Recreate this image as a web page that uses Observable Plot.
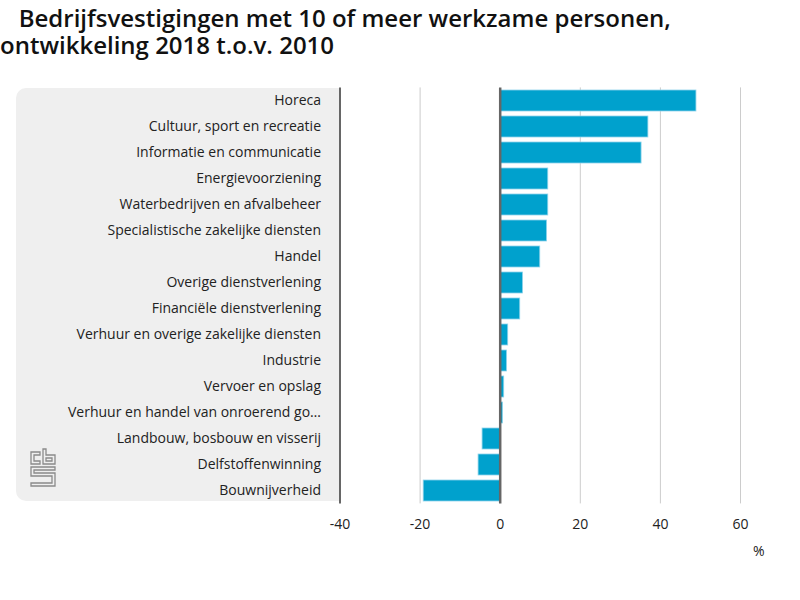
<!DOCTYPE html>
<html><head><meta charset="utf-8">
<script src="https://cdn.jsdelivr.net/npm/d3@7"></script>
<script src="https://cdn.jsdelivr.net/npm/@observablehq/plot@0.6"></script>
<style>
body{margin:0;background:#fff;}
#wrap{position:relative;width:800px;height:600px;overflow:hidden;font-family:"Open Sans",sans-serif;}
#title{position:absolute;left:0;top:4px;font-size:24px;font-weight:600;line-height:27px;color:#111;white-space:pre;}
#panel{position:absolute;left:16px;top:88px;width:323px;height:413px;background:#efefef;border-radius:10px 0 0 10px;}
#logo{position:absolute;left:28px;top:448px;}
#chart{position:absolute;left:0;top:0;}
</style></head><body>
<div id="wrap">
<div id="panel"></div>
<svg id="logo" width="32" height="42" viewBox="0 0 32 42" fill="none" stroke="#8a8a8a" stroke-width="1.3">
<path d="M3 4 h9 v3 h-6 v6 h6 v3 h-9 z"/>
<path d="M15 1 h3 v6 h9 v9 h-12 z M18 10 v3 h6 v-3 z"/>
<path d="M3 19 h24 v3 h-21 v3 h21 v13 h-24 v-3 h21 v-7 h-21 z"/>
</svg>
<div id="title">   Bedrijfsvestigingen met 10 of meer werkzame personen,
ontwikkeling 2018 t.o.v. 2010</div>
<div id="chart"></div>
</div>
<script>
const categories = [
  "Horeca",
  "Cultuur, sport en recreatie",
  "Informatie en communicatie",
  "Energievoorziening",
  "Waterbedrijven en afvalbeheer",
  "Specialistische zakelijke diensten",
  "Handel",
  "Overige dienstverlening",
  "Financiële dienstverlening",
  "Verhuur en overige zakelijke diensten",
  "Industrie",
  "Vervoer en opslag",
  "Verhuur en handel van onroerend go…",
  "Landbouw, bosbouw en visserij",
  "Delfstoffenwinning",
  "Bouwnijverheid"
];
const values = [49.0, 37.0, 35.3, 12.0, 12.0, 11.7, 10.0, 5.7, 5.0, 2.0, 1.7, 1.0, 0.7, -4.4, -5.4, -19.1];
const xTicks = [-40, -20, 0, 20, 40, 60];
const gridTicks = [-20, 20, 40, 60];
const unitLabel = "%";

const data = categories.map((c, i) => ({category: c, value: values[i]}));

const plot = Plot.plot({
  width: 800,
  height: 600,
  marginLeft: 339.5,
  marginRight: 60,
  marginTop: 87.4,
  marginBottom: 96.6,
  style: {fontFamily: "Open Sans, sans-serif", fontSize: "14px", color: "#222", background: "transparent"},
  x: {domain: [-40, 60], ticks: xTicks, label: null},
  y: {domain: categories, paddingInner: 0.2, paddingOuter: 0.1, label: null},
  marks: [
    Plot.ruleX(gridTicks, {stroke: "#cccccc", strokeWidth: 1}),
    Plot.barX(data, {x: "value", y: "category", fill: "#00a1cd", stroke: "#8fd3ea", strokeWidth: 0.8}),
    Plot.ruleX([0], {stroke: "#666", strokeWidth: 2.5}),
    Plot.ruleX([-40], {stroke: "#666", strokeWidth: 2}),
    Plot.axisX({ticks: xTicks, tickSize: 0, tickPadding: 15, fontSize: 14, fill: "#222", tickFormat: d => String(d)}),
    Plot.axisY({tickSize: 0, tickPadding: 19, fontSize: 14, fill: "#222"}),
    Plot.text([unitLabel], {frameAnchor: "bottom-right", dx: 24, dy: 52, text: d => d, fontSize: 14, fill: "#222"})
  ]
});
document.getElementById("chart").appendChild(plot);
</script>
</body></html>
